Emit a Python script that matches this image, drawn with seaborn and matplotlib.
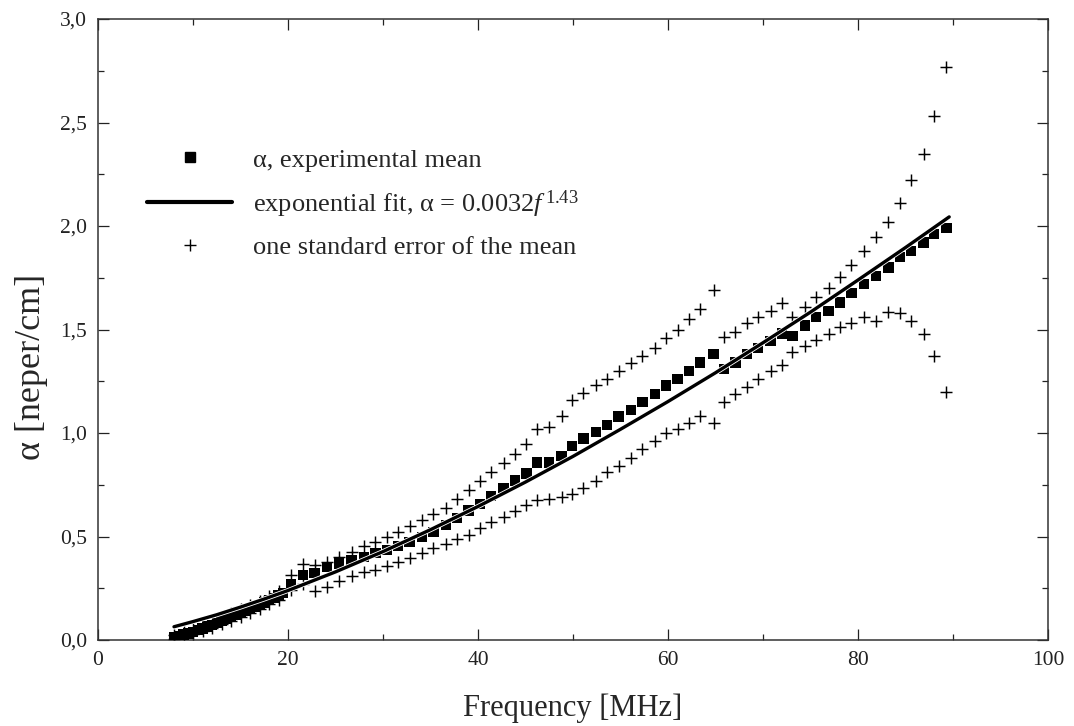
import matplotlib
matplotlib.use("Agg")
import matplotlib.pyplot as plt
import matplotlib.patheffects as pe
from matplotlib.lines import Line2D
from matplotlib.ticker import MultipleLocator, FixedLocator, FixedFormatter
import seaborn as sns
import pandas as pd

# ---------------- data ----------------
freq_mean = [8.0, 8.5, 9.0, 9.5, 10.0, 10.5, 11.0, 11.5, 12.0, 12.5, 13.0, 13.5,
             14.0, 14.5, 15.0, 15.5, 16.0, 16.5, 17.0, 17.5, 18.0, 18.5, 19.0, 19.5,
             20.3, 21.6, 22.8, 24.1, 25.4, 26.7, 28.0, 29.2, 30.4, 31.6, 32.8,
             34.1, 35.3, 36.6, 37.8, 39.0, 40.2, 41.4, 42.7, 43.9, 45.1,
             46.2, 47.5, 48.8, 49.9, 51.1, 52.4, 53.6, 54.8, 56.1, 57.3,
             58.6, 59.8, 61.0, 62.2, 63.4, 64.8, 65.9, 67.1, 68.3, 69.5,
             70.8, 72.0, 73.1, 74.4, 75.6, 76.9, 78.1, 79.3, 80.6, 81.9,
             83.2, 84.4, 85.6, 86.9, 88.0, 89.3]
alpha_mean = [0.015, 0.020, 0.026, 0.032, 0.040, 0.048, 0.056, 0.065, 0.074, 0.083, 0.093, 0.102,
              0.112, 0.121, 0.131, 0.140, 0.150, 0.160, 0.170, 0.181, 0.192, 0.203, 0.215, 0.228,
              0.270, 0.315, 0.325, 0.354, 0.370, 0.386, 0.400, 0.419, 0.435, 0.454, 0.475,
              0.496, 0.523, 0.556, 0.588, 0.625, 0.657, 0.695, 0.733, 0.770, 0.805,
              0.857, 0.857, 0.889, 0.937, 0.974, 1.006, 1.040, 1.080, 1.110, 1.150,
              1.190, 1.230, 1.260, 1.300, 1.340, 1.380, 1.310, 1.340, 1.380, 1.410,
              1.445, 1.480, 1.470, 1.520, 1.560, 1.590, 1.630, 1.675, 1.720, 1.760,
              1.800, 1.850, 1.880, 1.920, 1.960, 1.990]

freq_se = [8.0, 9.0, 10.0, 11.0, 12.0, 13.0, 14.0, 15.0, 16.0, 17.0, 18.0, 19.0,
           20.3, 21.6, 22.8, 24.1, 25.4, 26.7, 28.0, 29.2, 30.4, 31.6, 32.8,
           34.1, 35.3, 36.6, 37.8, 39.0, 40.2, 41.4, 42.7, 43.9, 45.1,
           46.2, 47.5, 48.8, 49.9, 51.1, 52.4, 53.6, 54.8, 56.1, 57.3,
           58.6, 59.8, 61.0, 62.2, 63.4, 64.8, 65.9, 67.1, 68.3, 69.5,
           70.8, 72.0, 73.1, 74.4, 75.6, 76.9, 78.1, 79.3, 80.6, 81.9,
           83.2, 84.4, 85.6, 86.9, 88.0, 89.3]
alpha_upper = [0.025, 0.038, 0.053, 0.070, 0.090, 0.110, 0.130, 0.150, 0.168, 0.190, 0.212, 0.237,
               0.314, 0.365, 0.364, 0.377, 0.400, 0.427, 0.454, 0.475, 0.500, 0.523, 0.550,
               0.580, 0.610, 0.640, 0.680, 0.725, 0.770, 0.810, 0.857, 0.900, 0.947,
               1.020, 1.030, 1.080, 1.160, 1.195, 1.230, 1.260, 1.300, 1.340, 1.370,
               1.410, 1.460, 1.500, 1.550, 1.600, 1.690, 1.465, 1.490, 1.530, 1.560,
               1.590, 1.630, 1.560, 1.610, 1.655, 1.700, 1.755, 1.810, 1.880, 1.945,
               2.020, 2.110, 2.220, 2.350, 2.530, 2.770]
alpha_lower = [0.005, 0.015, 0.027, 0.042, 0.058, 0.076, 0.094, 0.112, 0.132, 0.150, 0.172, 0.195,
               0.240, 0.270, 0.238, 0.258, 0.285, 0.310, 0.330, 0.338, 0.357, 0.378, 0.395,
               0.419, 0.443, 0.464, 0.486, 0.507, 0.540, 0.570, 0.596, 0.625, 0.652,
               0.676, 0.680, 0.690, 0.705, 0.735, 0.770, 0.810, 0.840, 0.878, 0.925,
               0.962, 0.998, 1.020, 1.050, 1.080, 1.050, 1.150, 1.190, 1.220, 1.260,
               1.300, 1.330, 1.390, 1.420, 1.450, 1.480, 1.510, 1.530, 1.560, 1.540,
               1.586, 1.580, 1.540, 1.480, 1.370, 1.200]

fit_freq = [8, 10, 12.5, 15, 17.5, 20, 25, 30, 35, 40, 45, 50, 55, 60, 65, 70, 75, 80, 85, 89.6]
fit_alpha = [0.064, 0.089, 0.122, 0.159, 0.198, 0.239, 0.329, 0.427, 0.533, 0.645, 0.763,
             0.887, 1.018, 1.152, 1.291, 1.436, 1.584, 1.739, 1.896, 2.044]

x_ticks = [0, 20, 40, 60, 80, 100]
x_tick_labels = ["0", "20", "40", "60", "80", "100"]
y_ticks = [0.0, 0.5, 1.0, 1.5, 2.0, 2.5, 3.0]
y_tick_labels = ["0,0", "0,5", "1,0", "1,5", "2,0", "2,5", "3,0"]

label_mean = "α, experimental mean"
label_fit = "exponential fit, α = 0.0032$\\mathit{f}^{\\,1.43}$"
label_se = "one standard error of the mean"
x_label = "Frequency [MHz]"
y_label = "α [neper/cm]"

# ---------------- style ----------------
sns.set_theme(style="ticks")
plt.rcParams["font.family"] = ["Liberation Serif", "DejaVu Serif"]
plt.rcParams["mathtext.fontset"] = "custom"
plt.rcParams["mathtext.rm"] = "Liberation Serif"
plt.rcParams["mathtext.it"] = "Liberation Serif:italic"
plt.rcParams["axes.edgecolor"] = "#333333"
plt.rcParams["axes.linewidth"] = 1.1

df_mean = pd.DataFrame({"f": freq_mean, "a": alpha_mean})
df_up = pd.DataFrame({"f": freq_se, "a": alpha_upper})
df_lo = pd.DataFrame({"f": freq_se, "a": alpha_lower})
df_fit = pd.DataFrame({"f": fit_freq, "a": fit_alpha})

fig = plt.figure(figsize=(10.74, 7.26), dpi=100)
ax = fig.add_axes([98 / 1074, 1 - 640 / 726, 950 / 1074, 621 / 726])

sns.scatterplot(data=df_up, x="f", y="a", marker="+", color="black", s=64,
                linewidth=1.05, ax=ax, zorder=2)
sns.scatterplot(data=df_lo, x="f", y="a", marker="+", color="black", s=64,
                linewidth=1.05, ax=ax, zorder=2)
sns.scatterplot(data=df_mean, x="f", y="a", marker="s", color="black", s=55,
                edgecolor="none", linewidth=0, ax=ax, zorder=3)
sns.lineplot(data=df_fit, x="f", y="a", color="black", linewidth=2.4, ax=ax,
             zorder=4,
             path_effects=[pe.Stroke(linewidth=3.6, foreground="white"), pe.Normal()])

ax.set_xlim(0, 100)
ax.set_ylim(0, 3.0)
ax.xaxis.set_major_locator(FixedLocator(x_ticks))
ax.xaxis.set_major_formatter(FixedFormatter(x_tick_labels))
ax.xaxis.set_minor_locator(MultipleLocator(10))
ax.yaxis.set_major_locator(FixedLocator(y_ticks))
ax.yaxis.set_major_formatter(FixedFormatter(y_tick_labels))
ax.yaxis.set_minor_locator(MultipleLocator(0.25))
ax.tick_params(which="both", direction="in", top=True, right=True, colors="#222222",
               width=0.9, labelsize=15.5)
ax.tick_params(which="major", length=8, pad=8)
ax.tick_params(which="minor", length=4)

ax.set_xlabel(x_label, fontsize=22, labelpad=17)
ax.set_ylabel(y_label, fontsize=26)
ax.yaxis.set_label_coords(-0.053, 0.44)
for s in ax.spines.values():
    s.set_visible(True)

handles = [
    Line2D([], [], linestyle="none", marker="s", markersize=7, color="black"),
    Line2D([], [], color="black", linewidth=3.0),
    Line2D([], [], linestyle="none", marker="+", markersize=9, markeredgewidth=1.0, color="black"),
]
ax.legend(handles, [label_mean, label_fit, label_se], loc="upper left",
          bbox_to_anchor=(0.052, 0.792), frameon=False, fontsize=19,
          handlelength=3.2, handletextpad=0.8, labelspacing=0.62,
          borderpad=0, borderaxespad=0)

fig.savefig("out.png", dpi=100)
